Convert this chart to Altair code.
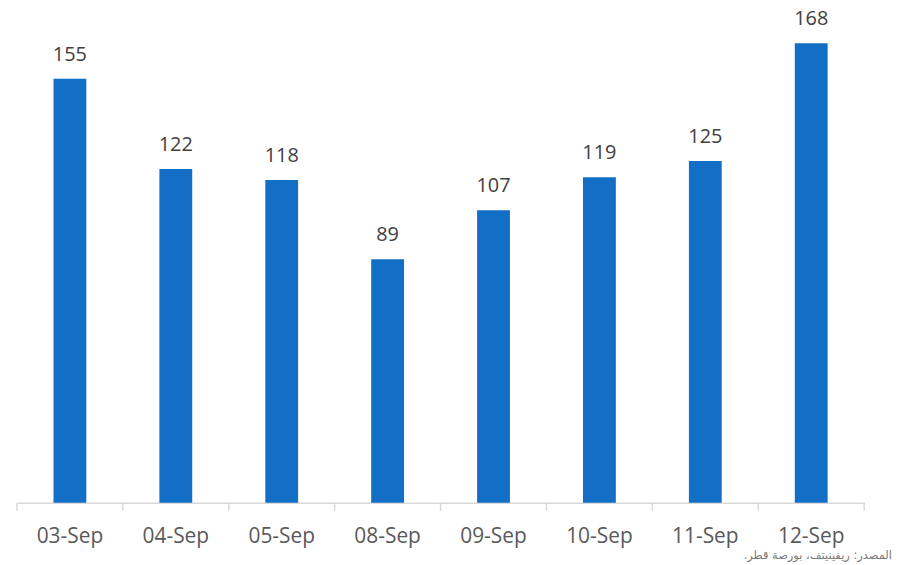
import altair as alt
import pandas as pd

dates = ["03-Sep", "04-Sep", "05-Sep", "08-Sep", "09-Sep", "10-Sep", "11-Sep", "12-Sep"]
values = [155, 122, 118, 89, 107, 119, 125, 168]
source_note = "المصدر: ريفينيتف، بورصة قطر." + "\u200f"

df = pd.DataFrame({"date": dates, "value": values})
df_last = pd.DataFrame({"date": dates[-1:]})

W, H = 852, 486
BAR = "#136FC6"
GRAY = "#D9D9D9"

x_scale = alt.Scale(domain=dates, paddingInner=0, paddingOuter=0)
y_scale = alt.Scale(domain=[0, 176.7], nice=False)

x_axis = alt.Axis(title=None, labelAngle=0, ticks=False, grid=False,
                  domainColor=GRAY, domainWidth=1.5,
                  labelFont="Open Sans", labelFontSize=21, labelColor="#595959", labelPadding=23)

base = alt.Chart(df)

bars = base.mark_bar(color=BAR, width=alt.RelativeBandSize(0.31)).encode(
    x=alt.X("date:N", scale=x_scale, sort=dates, axis=x_axis),
    y=alt.Y("value:Q", scale=y_scale, axis=None),
)

labels = base.mark_text(baseline="alphabetic", dy=-18, font="Open Sans", fontSize=20, color="#404040").encode(
    x=alt.X("date:N", scale=x_scale, sort=dates, axis=x_axis),
    y=alt.Y("value:Q", scale=y_scale, axis=None),
    text=alt.Text("value:Q"),
)

ticks = base.mark_rule(color=GRAY, strokeWidth=1.5).encode(
    x=alt.X("date:N", scale=x_scale, sort=dates, axis=x_axis, bandPosition=0),
    y=alt.value(H), y2=alt.value(H + 8),
)

end_tick = alt.Chart(df_last).mark_rule(color=GRAY, strokeWidth=1.5).encode(
    x=alt.X("date:N", scale=x_scale, sort=dates, axis=x_axis, bandPosition=1),
    y=alt.value(H), y2=alt.value(H + 8),
)

note = alt.Chart(pd.DataFrame({"t": [source_note]})).mark_text(
    align="right", baseline="alphabetic", font="DejaVu Sans", fontSize=11.5,
    color="#7A7A7A"
).encode(x=alt.value(880), y=alt.value(H + 57), text="t:N")

chart = alt.layer(bars, labels, ticks, end_tick, note).properties(
    width=W, height=H,
    autosize=alt.AutoSizeParams(type="none"),
    padding={"left": 9, "top": 10, "right": 30, "bottom": 60},
).configure_view(stroke=None)

chart.save("out.html", embed_options={"renderer": "svg", "actions": False})
